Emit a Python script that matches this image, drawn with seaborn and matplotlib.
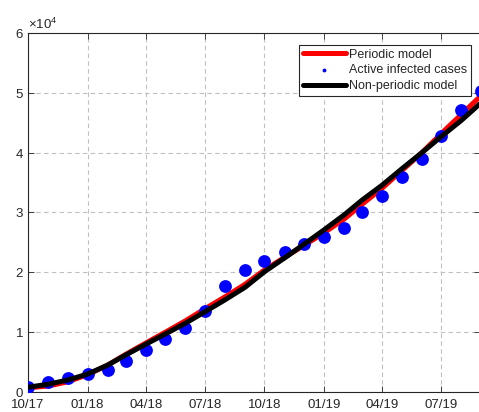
import pandas as pd
import seaborn as sns
import matplotlib
matplotlib.use('Agg')
import matplotlib.pyplot as plt
import matplotlib.dates as mdates
from matplotlib.ticker import ScalarFormatter, MultipleLocator

# Monthly observations, Oct 2017 - Sep 2019
months = pd.date_range('2017-10-01', periods=24, freq='MS')

active_cases = [890, 1720, 2390, 3000, 3680, 5230, 7020, 8810, 10750, 13600,
                17780, 20400, 21960, 23360, 24750, 25970, 27370, 30150, 32830,
                35950, 38960, 42800, 47100, 50330]

periodic_model = [700, 1000, 1700, 2900, 4500, 6300, 8200, 10000, 11900, 13900,
                  15900, 18000, 20400, 22500, 24500, 26600, 28900, 31400, 34100,
                  37000, 40000, 43200, 46400, 49600]

non_periodic_model = [800, 1300, 2000, 3000, 4500, 6200, 8000, 9700, 11500, 13400,
                      15400, 17500, 20100, 22400, 24700, 27100, 29600, 32100, 34600,
                      37300, 40000, 42700, 45400, 48400]

tick_dates = pd.date_range('2017-10-01', periods=8, freq='QS-OCT')

df = pd.DataFrame({'date': months, 'cases': active_cases,
                   'periodic': periodic_model, 'nonperiodic': non_periodic_model})

sns.set_theme(style='whitegrid')
plt.rcParams['font.family'] = ['Liberation Sans', 'DejaVu Sans']
plt.rcParams['mathtext.fontset'] = 'custom'
plt.rcParams['mathtext.rm'] = 'Liberation Sans'

fig = plt.figure(figsize=(4.79, 4.12), dpi=100)
ax = fig.add_axes([0.0585, 0.0485, 0.944, 0.8715])

sns.lineplot(data=df, x='date', y='periodic', color='#ff0000', linewidth=3.6,
             label='Periodic model', ax=ax)
sns.scatterplot(data=df, x='date', y='cases', color='#0000ff', s=85, linewidth=0,
                label='Active infected cases', ax=ax, zorder=3)
sns.lineplot(data=df, x='date', y='nonperiodic', color='black', linewidth=3.6,
             label='Non-periodic model', ax=ax, zorder=4)

ax.set_xlim(pd.Timestamp('2017-10-01'), pd.Timestamp('2019-08-30'))
ax.set_ylim(0, 60000)
ax.set_xticks(tick_dates)
ax.xaxis.set_major_formatter(mdates.DateFormatter('%m/%y'))
ax.yaxis.set_major_locator(MultipleLocator(10000))
fmt = ScalarFormatter(useMathText=True)
fmt.set_powerlimits((0, 0))
ax.yaxis.set_major_formatter(fmt)
ax.yaxis.get_offset_text().set_fontsize(9.5)
ax.yaxis.get_offset_text().set_color('#262626')

ax.set_xlabel('')
ax.set_ylabel('')
ax.set_facecolor('white')
ax.grid(True, linestyle=(0, (4, 3)), color='#c0c0c0', linewidth=0.8)
for s in ax.spines.values():
    s.set_color('#262626')
    s.set_linewidth(0.8)
ax.tick_params(axis='both', which='major', direction='in', length=4, width=0.6,
               labelsize=9.5, labelcolor='#262626', color='#262626',
               top=True, right=True, bottom=True, left=True)
ax.tick_params(axis='x', pad=5)
ax.tick_params(axis='y', pad=3)

handles, labels = ax.get_legend_handles_labels()
leg = ax.legend(handles, labels, loc='upper right', bbox_to_anchor=(0.98, 0.967),
                fontsize=9, frameon=True, fancybox=False, framealpha=1,
                edgecolor='#262626', handlelength=3.4, borderpad=0.3,
                labelspacing=0.3, handletextpad=0.3, borderaxespad=0,
                markerscale=0.3)
leg.get_frame().set_linewidth(0.8)

fig.savefig('out.png', dpi=100)
